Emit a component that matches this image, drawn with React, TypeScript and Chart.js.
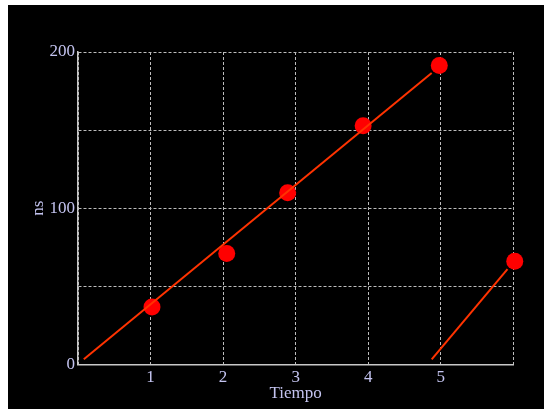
import React, { useEffect, useRef } from "react";
import { Chart, registerables } from "chart.js";

Chart.register(...registerables);

// Measured points (Tiempo, ns)
const markerX = [1.02, 2.05, 2.89, 3.93, 4.98, 6.02];
const markerY = [36.7, 70.9, 109.8, 152.8, 191.4, 66.0];

// Fitted line segments (wrapping)
const line1X = [0.08, 4.875];
const line1Y = [3.2, 186.5];
const line2X = [4.875, 5.92];
const line2Y = [3.2, 60.9];

const xTickLabels = ["", "1", "2", "3", "4", "5", ""];
const yTickValues = [0, 100, 200];

const TEXT = "#c4c4f0";
const GRID = "#bdbdbd";
const FONT = "'Liberation Serif', 'Times New Roman', serif";

export default function App() {
  const ref = useRef<HTMLCanvasElement | null>(null);

  useEffect(() => {
    if (!ref.current) return;
    const toPts = (xs: number[], ys: number[]) => xs.map((x, i) => ({ x, y: ys[i] }));
    const chart = new Chart(ref.current, {
      type: "scatter",
      data: {
        datasets: [
          {
            type: "line",
            data: toPts(line1X, line1Y),
            borderColor: "#ff3300",
            borderWidth: 2,
            pointRadius: 0,
            showLine: true,
            fill: false,
            clip: false,
          } as any,
          {
            type: "line",
            data: toPts(line2X, line2Y),
            borderColor: "#ff3300",
            borderWidth: 2,
            pointRadius: 0,
            showLine: true,
            fill: false,
            clip: false,
          } as any,
          {
            data: toPts(markerX, markerY),
            backgroundColor: "#ff0000",
            borderColor: "#ff0000",
            borderWidth: 0,
            pointRadius: 8.5,
            showLine: false,
            clip: false,
          } as any,
        ],
      },
      options: {
        animation: false,
        responsive: false,
        maintainAspectRatio: false,
        layout: { padding: { left: 0, top: 47, right: 30.7, bottom: 0 } },
        plugins: { legend: { display: false }, tooltip: { enabled: false } },
        scales: {
          x: {
            type: "linear",
            min: 0,
            max: 6,
            afterFit: (s: any) => {
              s.height = 44.7;
            },
            ticks: {
              stepSize: 1,
              color: TEXT,
              font: { family: FONT, size: 17 },
              padding: 3,
              maxRotation: 0,
              callback: (v: any) => xTickLabels[Math.round(Number(v))] ?? "",
            },
            grid: { color: GRID, lineWidth: 1, drawTicks: false },
            border: { display: true, color: "#c8c8c8", width: 1.5, dash: [3, 2] },
            title: {
              display: true,
              text: "Tiempo",
              color: TEXT,
              font: { family: FONT, size: 17 },
              padding: { top: 0, bottom: 5 },
            },
          },
          y: {
            type: "linear",
            min: 0,
            max: 200,
            afterFit: (s: any) => {
              s.width = 70;
            },
            ticks: {
              stepSize: 50,
              color: TEXT,
              font: { family: FONT, size: 17 },
              padding: 3,
              callback: (v: any) => (yTickValues.includes(Number(v)) ? String(v) : ""),
            },
            grid: { color: GRID, lineWidth: 1, drawTicks: false },
            border: { display: true, color: "#c8c8c8", width: 1.5, dash: [3, 2] },
            title: {
              display: true,
              text: "ns",
              color: TEXT,
              font: { family: FONT, size: 17 },
              padding: { top: 20, bottom: 0 },
            },
          },
        },
      },
    });
    return () => chart.destroy();
  }, []);

  return (
    <div style={{ position: "absolute", left: 8, top: 5 }}>
      <canvas ref={ref} width={536} height={404} style={{ background: "#000", display: "block" }} />
    </div>
  );
}
